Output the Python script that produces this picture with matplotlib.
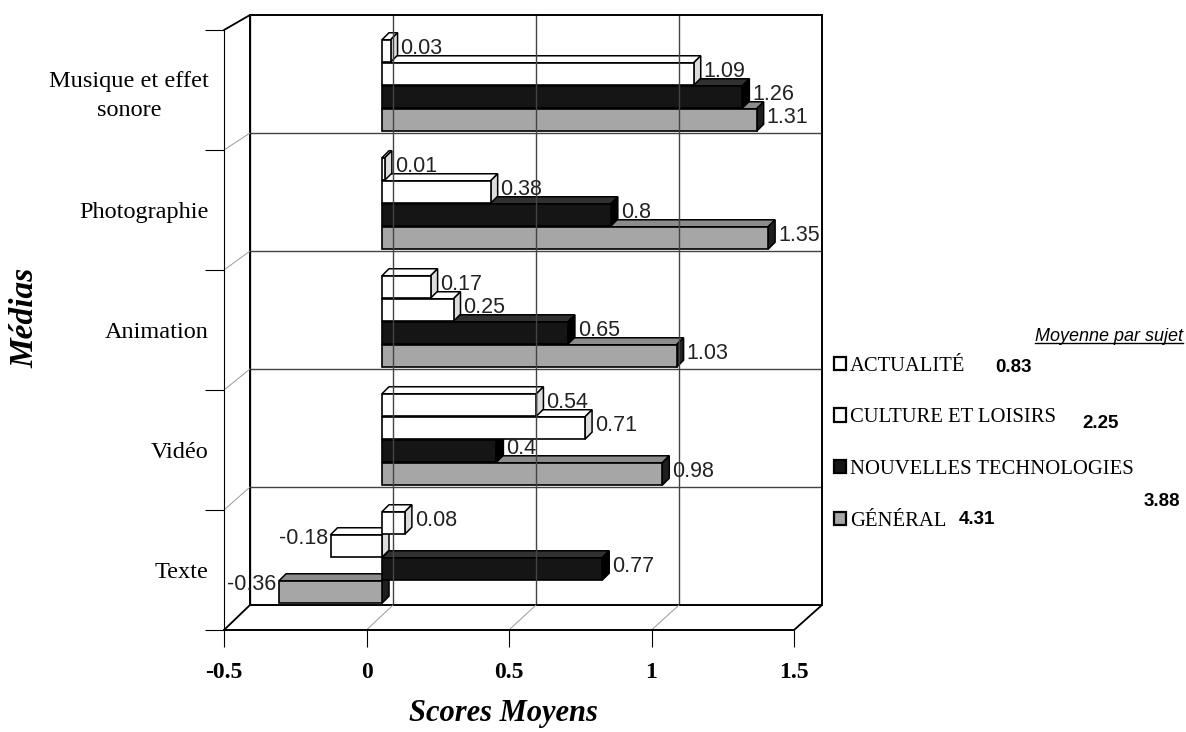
import matplotlib.pyplot as plt
from matplotlib.patches import Polygon, Rectangle, ConnectionPatch
from matplotlib.transforms import ScaledTranslation
from matplotlib.lines import Line2D

W, H = 1186, 732

medias = ["Musique et effet\nsonore", "Photographie", "Animation", "Vidéo", "Texte"]
sujets = ["ACTUALITÉ", "CULTURE ET LOISIRS", "NOUVELLES TECHNOLOGIES", "GÉNÉRAL"]
actualite = [0.03, 0.01, 0.17, 0.54, 0.08]
culture = [1.09, 0.38, 0.25, 0.71, -0.18]
nouvelles = [1.26, 0.8, 0.65, 0.4, 0.77]
general = [1.31, 1.35, 1.03, 0.98, -0.36]
moyennes = [0.83, 2.25, 3.88, 4.31]
xticks = [-0.5, 0, 0.5, 1, 1.5]

series = [actualite, culture, nouvelles, general]
front_col = ["white", "white", "#151515", "#a6a6a6"]
top_col = ["white", "white", "#303030", "#8c8c8c"]
side_col = ["#dcdcdc", "#dcdcdc", "#000000", "#1e1e1e"]
offsets = [-0.28, -0.085, 0.11, 0.305]
bar_h = 0.19

SERIF = "Liberation Serif"
SANS = "Liberation Sans"


def px_box(x0, y0, x1, y1):
    return [x0 / W, 1 - y1 / H, (x1 - x0) / W, (y1 - y0) / H]


fig = plt.figure(figsize=(W / 100, H / 100), dpi=100)

# back wall with the grid
back = fig.add_axes(px_box(250, 15, 822, 605))
back.set_xlim(-0.5, 1.5)
back.set_ylim(4.5, -0.5)
back.set_xticks(xticks)
back.set_yticks([0.5, 1.5, 2.5, 3.5])
back.grid(True, color="#444444", lw=1.0)
back.tick_params(length=0, labelbottom=False, labelleft=False)
for s in back.spines.values():
    s.set_linewidth(1.4)

# front plane: carries the axis ticks and labels
front = fig.add_axes(px_box(224, 30, 794, 630))
front.patch.set_visible(False)
front.set_xlim(-0.5, 1.5)
front.set_ylim(4.5, -0.5)
front.spines["top"].set_visible(False)
front.spines["right"].set_visible(False)
front.spines["left"].set_linewidth(0.8)
front.spines["bottom"].set_linewidth(1.4)
front.set_xticks(xticks)
front.set_xticklabels(["-0.5", "0", "0.5", "1", "1.5"], fontfamily=SERIF,
                      fontweight="bold", fontsize=17)
front.tick_params(axis="x", length=12, width=0.8, pad=11)
front.set_yticks(range(len(medias)))
front.set_yticklabels(medias, fontfamily=SERIF, fontsize=17.5, linespacing=1.45)
front.tick_params(axis="y", which="major", length=0, pad=11)
front.set_yticks([-0.5, 0.5, 1.5, 2.5, 3.5, 4.5], minor=True)
front.tick_params(axis="y", which="minor", length=14, width=0.8)
for lbl in front.get_yticklabels():
    lbl.set_multialignment("center")
front.set_xlabel("Scores Moyens", fontfamily=SERIF, fontsize=22,
                 fontweight="bold", style="italic")
front.xaxis.set_label_coords(0.49, -0.115)
front.set_ylabel("Médias", fontfamily=SERIF, fontsize=24,
                 fontweight="bold", style="italic")
front.yaxis.set_label_coords(-0.322, 0.52)

# floor and side wall edges joining the two planes
for x in xticks:
    front.add_artist(ConnectionPatch((x, 4.5), (x, 4.5), back.transData,
                                     front.transData, color="#999999", lw=0.7))
for y in [-0.5, 0.5, 1.5, 2.5, 3.5]:
    front.add_artist(ConnectionPatch((-0.5, y), (-0.5, y), back.transData,
                                     front.transData, color="#999999", lw=0.7))
for x, y in [(-0.5, -0.5), (-0.5, 4.5), (1.5, 4.5)]:
    front.add_artist(ConnectionPatch((x, y), (x, y), back.transData,
                                     front.transData, color="black", lw=1.3))

# bars sit a little in front of the wall
shift = back.transData + ScaledTranslation(-0.11, -0.10, fig.dpi_scale_trans)
DX = 7 / 286
DY = 7 / 118

for k in reversed(range(4)):
    for i, v in enumerate(series[k]):
        y0 = i + offsets[k] - bar_h / 2
        y1 = y0 + bar_h
        lo, hi = min(0, v), max(0, v)
        top = Polygon([(lo, y0), (lo + DX, y0 - DY), (hi + DX, y0 - DY), (hi, y0)],
                      closed=True, facecolor=top_col[k], edgecolor="black",
                      lw=1.1, transform=shift, clip_on=False)
        side = Polygon([(hi, y0), (hi + DX, y0 - DY), (hi + DX, y1 - DY), (hi, y1)],
                       closed=True, facecolor=side_col[k], edgecolor="black",
                       lw=1.1, transform=shift, clip_on=False)
        face = Rectangle((lo, y0), hi - lo, bar_h, facecolor=front_col[k],
                         edgecolor="black", lw=1.2, transform=shift, clip_on=False)
        back.add_patch(top)
        back.add_patch(side)
        back.add_patch(face)
        if v >= 0:
            back.text(v + DX + 0.01, i + offsets[k] - 0.02, f"{v:g}",
                      ha="left", va="center", fontfamily=SANS, fontsize=15.5,
                      color="#222222", transform=shift, zorder=5)
        else:
            back.text(v - 0.01, i + offsets[k] - 0.06, f"{v:g}",
                      ha="right", va="center", fontfamily=SANS, fontsize=15.5,
                      color="#222222", transform=shift, zorder=5)

# legend with the mean per subject
handles = [Rectangle((0, 0), 1, 1, facecolor=front_col[k], edgecolor="black", lw=1.6)
           for k in range(4)]
fig.legend(handles, sujets, loc="upper left", bbox_to_anchor=(815 / W, 1 - 338 / H),
           frameon=False, handlelength=0.6, handleheight=0.6, handletextpad=0.2,
           labelspacing=1.58, prop={"family": SERIF, "size": 14.9})
mean_pos = [(1013, 368), (1101, 424), (1162, 502), (977, 520)]
for m, (mx, my) in zip(moyennes, mean_pos):
    fig.text(mx / W, 1 - my / H, f"{m:.2f}", ha="center", va="center",
             fontfamily=SANS, fontweight="bold", fontsize=13.5)

title = fig.text(1183 / W, 1 - 336 / H, "Moyenne par sujet", ha="right", va="center",
                 fontfamily=SANS, style="italic", fontsize=13)
fig.canvas.draw()
bb = title.get_window_extent().transformed(fig.transFigure.inverted())
fig.add_artist(Line2D([bb.x0, bb.x1], [bb.y0 + 0.002, bb.y0 + 0.002], color="black",
                      lw=1.0, transform=fig.transFigure))

fig.savefig("out.png", dpi=100)
